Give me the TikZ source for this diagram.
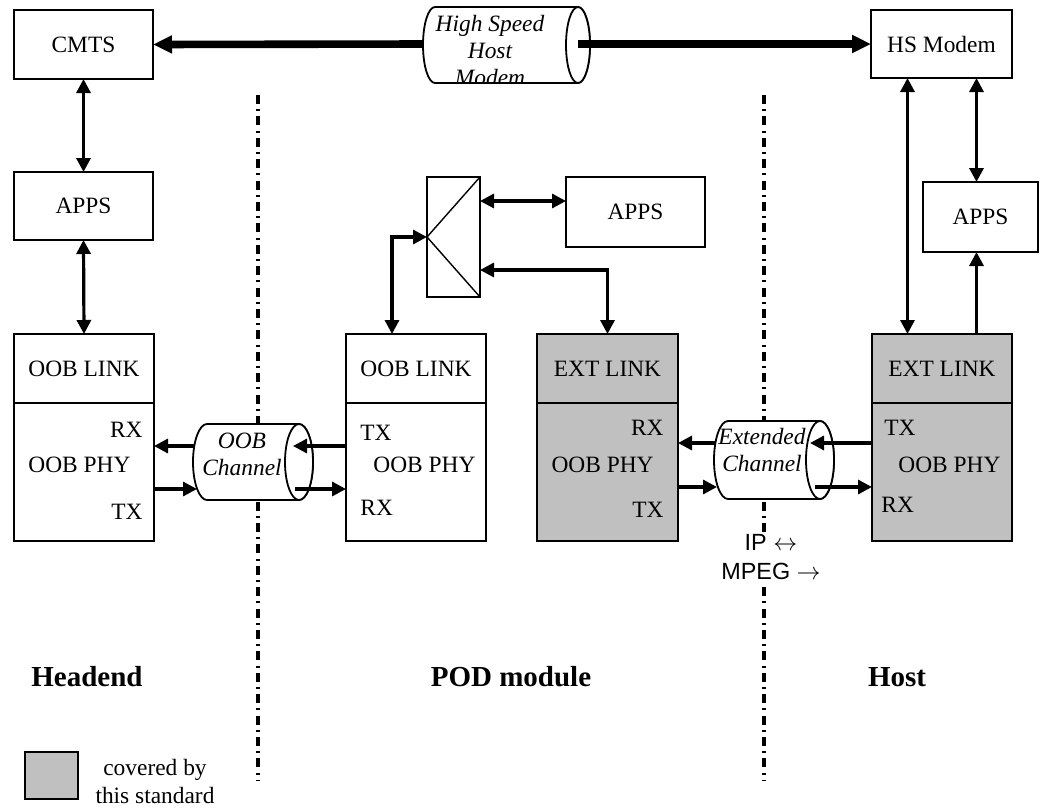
\documentclass[tikz,border=0pt]{standalone}
\usepackage{fontspec}
\setmainfont{Liberation Serif}
\setsansfont{Liberation Sans}
\usepackage{xcolor}
\usetikzlibrary{arrows.meta,positioning}
\definecolor{stdgray}{RGB}{192,192,192}
\newcommand{\boxfont}{\fontsize{11.7}{13.5}\selectfont}
\tikzset{
    box/.style={draw, line width=1pt, fill=white, align=center,
    font=\boxfont, inner sep=0pt, outer sep=0pt},
    stdbox/.style={box, fill=stdgray},
    lbl/.style={font=\boxfont, inner sep=0pt},
    drum/.style={draw, fill=white, line width=0.9pt},
    drumtext/.style={font=\itshape\boxfont, align=center, inner sep=0pt},
    zone/.style={font=\bfseries\fontsize{14.5}{17}\selectfont, inner sep=0pt},
    border/.style={line width=1.6pt, dash pattern=on 4.5pt off 2.6pt on 1pt off 2.6pt},
    arr/.style={line width=1.6pt, -{Triangle[length=7pt,width=7pt]}},
    arr2/.style={line width=1.6pt, {Triangle[length=7pt,width=7pt]}-{Triangle[length=7pt,width=7pt]}},
    bigarr/.style={line width=3.8pt, -{Triangle[length=9.5pt,width=8.5pt]}},
}

\begin{document}
\begin{tikzpicture}[x=0.5pt, y=-0.5pt, node distance=0pt]
            \useasboundingbox (0,0) rectangle (1045,810);
            % --- zone borders ---
            \draw[border] (258,95) -- (258,780);
            \draw[border] (764,95) -- (764,780);
            % --- headend ---
            \node[box, minimum width=69.5pt, minimum height=34.5pt] (cmts) at (83.5,44.5) {CMTS};
            \node[box, minimum width=69.5pt, minimum height=34pt] (apps1) at (83.5,206) {APPS};
            \node[box, minimum width=70pt, minimum height=34.5pt] (hlink) at (84,368.5) {OOB LINK};
            \node[box, minimum width=70pt, minimum height=69pt, below=of hlink] (hphy) {};
            \node[lbl, anchor=east] (hrx) at (143,430) {RX};
            \node[lbl, anchor=west] (hname) at (28,465) {OOB PHY};
            \node[lbl, anchor=east] (htx) at (143,512) {TX};
            % --- POD module ---
            \node[box, minimum width=26.5pt, minimum height=60pt] (mux) at (453.5,237) {};
            \draw[line width=0.7pt] (mux.north east) -- (mux.west) -- (mux.south east);
            \node[box, minimum width=69.5pt, minimum height=35pt] (apps2) at (635.5,212) {APPS};
            \node[box, minimum width=70pt, minimum height=34.5pt] (polink) at (416,368.5) {OOB LINK};
            \node[box, minimum width=70pt, minimum height=69pt, below=of polink] (pophy) {};
            \node[lbl, anchor=west] (potx) at (360,433) {TX};
            \node[lbl, anchor=west] (poname) at (373,465) {OOB PHY};
            \node[lbl, anchor=west] (porx) at (360,508) {RX};
            \node[stdbox, minimum width=70.5pt, minimum height=34.5pt] (pelink) at (607.5,368.5) {EXT LINK};
            \node[stdbox, minimum width=70.5pt, minimum height=69pt, below=of pelink] (pephy) {};
            \node[lbl, anchor=east] (perx) at (664,428) {RX};
            \node[lbl, anchor=east] (pename) at (654,465) {OOB PHY};
            \node[lbl, anchor=east] (petx) at (664,510) {TX};
            % --- host ---
            \node[box, minimum width=70.5pt, minimum height=34pt] (hsmodem) at (941.5,44) {HS Modem};
            \node[box, minimum width=57.5pt, minimum height=35pt] (apps3) at (980.5,217) {APPS};
            \node[stdbox, minimum width=70pt, minimum height=34.5pt] (helink) at (942,368.5) {EXT LINK};
            \node[stdbox, minimum width=70pt, minimum height=69pt, below=of helink] (hephy) {};
            \node[lbl, anchor=west] (hetx) at (884,428) {TX};
            \node[lbl, anchor=west] (hename) at (898,465) {OOB PHY};
            \node[lbl, anchor=west] (herx) at (881,505) {RX};
            % --- channels ---
            \filldraw[drum] (578,7) -- (435,7) arc[start angle=90, end angle=270, x radius=6pt, y radius=19pt]
                -- (578,83) arc[start angle=-90, end angle=90, x radius=6pt, y radius=19pt];
            \draw[drum] (578,45) ellipse [x radius=6pt, y radius=19pt];
            \begin{scope}
                \clip (423,7) rectangle (590,83);
                \node[drumtext] (hstext) at (490,50) {High Speed\\Host\\Modem};
            \end{scope}
            \coordinate (hs-l) at (423,44);
            \coordinate (hs-r) at (578,44);
            \filldraw[drum] (299,424) -- (207,424) arc[start angle=90, end angle=270, x radius=7pt, y radius=19pt]
                -- (299,500) arc[start angle=-90, end angle=90, x radius=7pt, y radius=19pt];
            \draw[drum] (299,462) ellipse [x radius=7pt, y radius=19pt];
            \node[drumtext] (oobtext) at (242,454) {OOB\\Channel};
            \coordinate (oc-l1) at (194,446);
            \coordinate (oc-l2) at (197,489);
            \coordinate (oc-r1) at (293,446);
            \coordinate (oc-r2) at (295,489);
            \filldraw[drum] (820,421) -- (728,421) arc[start angle=90, end angle=270, x radius=7pt, y radius=19.5pt]
                -- (820,499) arc[start angle=-90, end angle=90, x radius=7pt, y radius=19.5pt];
            \draw[drum] (820,460) ellipse [x radius=7pt, y radius=19.5pt];
            \node[drumtext] (exttext) at (762,450) {Extended\\Channel};
            \coordinate (ec-l1) at (715,443);
            \coordinate (ec-l2) at (717,487);
            \coordinate (ec-r1) at (810,443);
            \coordinate (ec-r2) at (815,487);
            \node[font=\sffamily\fontsize{11.7}{14.5}\selectfont, fill=white, align=center, inner sep=1pt] (proto) at (771,557) {IP $\leftrightarrow$\\MPEG $\rightarrow$};
            % --- connections ---
            \draw[bigarr] (hs-l) -- (cmts.east);
            \draw[bigarr] (hs-r) -- (hsmodem.west);
            \draw[arr2] (cmts.south) -- (apps1.north);
            \draw[arr2] (apps1.south) -- (hlink.north);
            \draw[arr] (oc-l1) -- (oc-l1 -| hphy.east);
            \draw[arr] (oc-l2 -| hphy.east) -- (oc-l2);
            \draw[arr] (oc-r1 -| pophy.west) -- (oc-r1);
            \draw[arr] (oc-r2) -- (oc-r2 -| pophy.west);
            \coordinate (a2in) at ([yshift=5.5pt]apps2.west);
            \draw[arr2] (a2in -| mux.east) -- (a2in);
            \draw[arr2] ([xshift=-12pt]polink.north) |- (mux.west);
            \draw[arr2] ([yshift=-16.5pt]mux.east) -| (pelink.north);
            \draw[arr] (ec-l1) -- (ec-l1 -| pephy.east);
            \draw[arr] (ec-l2 -| pephy.east) -- (ec-l2);
            \draw[arr] (ec-r1 -| hephy.west) -- (ec-r1);
            \draw[arr] (ec-r2) -- (ec-r2 -| hephy.west);
            \coordinate (hm1) at ([xshift=-17pt]hsmodem.south);
            \coordinate (hm2) at ([xshift=17.5pt]hsmodem.south);
            \draw[arr2] (hm1) -- (hm1 |- helink.north);
            \draw[arr2] (hm2) -- (hm2 |- apps3.north);
            \draw[arr] (hm2 |- helink.north) -- (hm2 |- apps3.south);
            % --- zone names and key ---
            \node[zone] (headend) at (87,677) {Headend};
            \node[zone] (pod) at (511,677) {POD module};
            \node[zone] (host) at (897,677) {Host};
            \node[stdbox, minimum width=26.5pt, minimum height=23.5pt] (key) at (51.5,775.5) {};
            \node[lbl, align=center, font=\fontsize{11.7}{14}\selectfont] (keytext) at (155,781) {covered by\\this standard};
        \end{tikzpicture}
\end{document}
